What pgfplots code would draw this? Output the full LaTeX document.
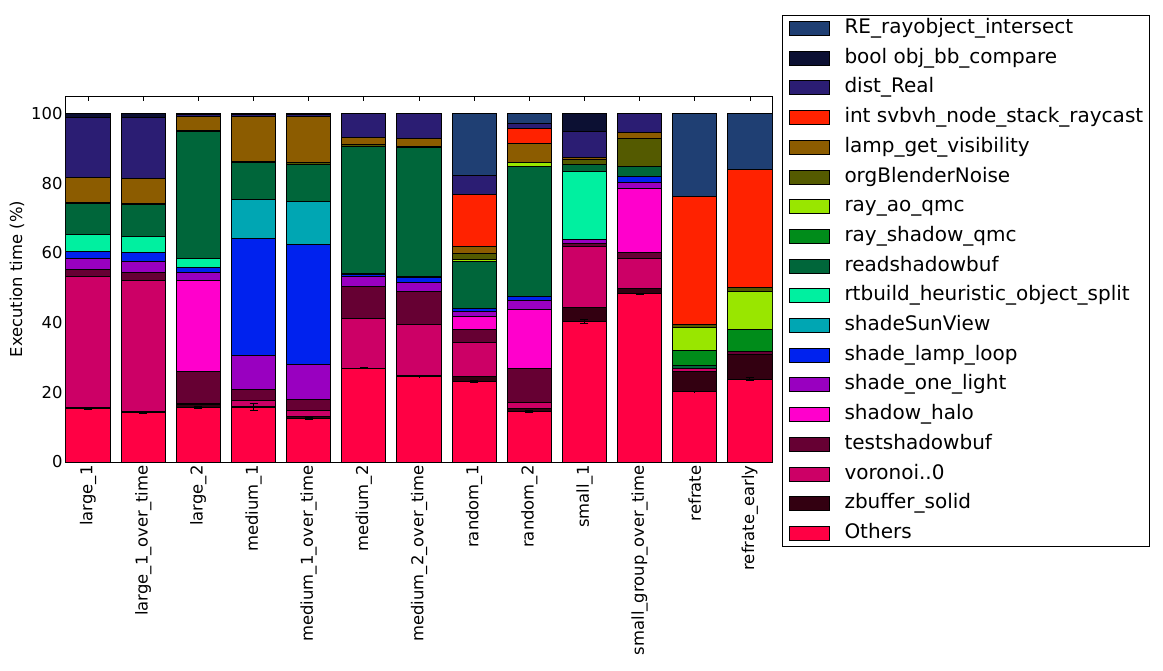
\documentclass[border=0pt]{standalone}
\usepackage{pgfplots}
\usepackage{pgfplotstable}
\pgfplotsset{compat=1.18}
\usepackage{fontspec}
\setmainfont{DejaVu Sans}

\definecolor{cOt}{HTML}{FF0044}
\definecolor{czb}{HTML}{330011}
\definecolor{cvo}{HTML}{CC0066}
\definecolor{cts}{HTML}{660033}
\definecolor{csh}{HTML}{FF00CC}
\definecolor{csol}{HTML}{9900C0}
\definecolor{csll}{HTML}{0022EE}
\definecolor{cssv}{HTML}{00A6B3}
\definecolor{crt}{HTML}{00F0A0}
\definecolor{crsb}{HTML}{00663A}
\definecolor{crsq}{HTML}{008C1A}
\definecolor{craq}{HTML}{99E600}
\definecolor{cobn}{HTML}{545A00}
\definecolor{clgv}{HTML}{8C5C00}
\definecolor{cisv}{HTML}{FF2200}
\definecolor{cdr}{HTML}{2B1D73}
\definecolor{cbob}{HTML}{0C1033}
\definecolor{cre}{HTML}{1F3F73}

\pgfplotstableread{
x  Ot   eOt zb  vo   ts  sh   sol  sll  ssv  rt   rsb  rsq raq  obn lgv  isv  dr   bob re
0  15.4 0.2 0.3 37.4 2.1 0    3.1  2.0  0    5.0  8.8  0   0    0.3 7.3  0    17.0 1.3 0
1  14.2 0.3 0.3 37.6 2.3 0    3.2  2.6  0    4.6  9.1  0   0    0.3 7.2  0    17.3 1.3 0
2  15.6 0.2 1.0 0.2  9.2 26.1 2.3  1.5  0    2.5  36.5 0   0    0.3 4.0  0    0.4  0.4 0
3  15.7 1.0 0.3 1.6  3.3 0    9.7  33.4 11.4 0    10.6 0   0    0.3 12.9 0    0.4  0.4 0
4  12.5 0.3 0.5 1.8  3.1 0    10.2 34.4 12.3 0    10.6 0   0    0.5 13.3 0    0.4  0.4 0
5  26.9 0.2 0   14.4 9.1 0    2.7  0.8  0    0.3  36.4 0   0    0.5 2.1  0    6.8  0   0
6  24.5 0.1 0.2 14.7 9.5 0    2.7  1.2  0    0.4  36.9 0   0    0.5 2.2  0    7.2  0   0
7  23.0 0.3 1.5 9.8  3.6 3.8  1.5  0.8  0    0    13.4 0   0.8  1.7 1.8  15.1 5.3  0   17.9
8  14.5 0.3 0.9 1.7  9.8 16.9 2.6  1.1  0    0    37.4 0   0.9  0   5.7  4.3  1.3  0   2.9
9  40.3 0.6 3.9 17.5 0.9 0    1.2  0    0    19.4 2.1  0   0    1.5 0.5  0    7.6  5.1 0
10 48.2 0.2 1.6 8.5  1.9 18.2 1.7  1.9  0    0    2.9  0   0    7.8 1.9  0    5.4  0   0
11 20.2 0.1 5.9 0.8  0   0    0    0    0    0    0.7  4.4 6.7  0.7 0    36.7 0    0   23.9
12 23.8 0.4 6.9 0    1.0 0    0    0    0    0    0    6.2 11.0 1.3 0    33.7 0    0   16.1
}\datatable

\begin{document}
\begin{tikzpicture}
\useasboundingbox (-66pt,-208pt) rectangle (1097pt,462pt);
\begin{axis}[
  at={(0,0)}, anchor=south west,
  scale only axis, width=706pt, height=366pt,
  ybar stacked, bar width=0.8,
  xmin=-0.4, xmax=12.4, ymin=0, ymax=105,
  xtick={0,...,12},
  xticklabels={large\_1,large\_1\_over\_time,large\_2,medium\_1,medium\_1\_over\_time,medium\_2,medium\_2\_over\_time,random\_1,random\_2,small\_1,small\_group\_over\_time,refrate,refrate\_early},
  ytick={0,20,40,60,80,100},
  /pgf/number format/assume math mode=true,
  tick align=inside, major tick length=5pt,
  tick style={black, line width=0.8pt},
  axis line style={line width=1pt},
  xticklabel style={rotate=90, anchor=east, font=\fontsize{16.4}{19}\selectfont},
  yticklabel style={font=\fontsize{16.4}{19}\selectfont},
  ylabel={Execution time (\%)},
  ylabel style={font=\fontsize{16.4}{19}\selectfont},
  every axis plot/.append style={draw=black, line width=1pt},
  legend image code/.code={\draw[#1,line width=1pt] (0pt,-7pt) rectangle (40pt,7pt);},
  reverse legend,
  legend cell align=left,
  legend style={at={(1,1)}, anchor=north west, xshift=10pt, yshift=81pt,
    font=\fontsize{20}{20}\selectfont, draw=black, line width=1pt,
    inner xsep=6pt, inner ysep=4pt, row sep=11.7pt,
    nodes={inner sep=0pt, text height=14pt, text depth=4pt},
    /tikz/every odd column/.append style={column sep=15pt}},
]
\addplot[fill=cOt, error bars/.cd, y dir=both, y explicit, error bar style={line width=1pt}, error mark options={rotate=90, mark size=4pt, line width=1pt}] table[x=x, y=Ot, y error=eOt] {\datatable};
\addlegendentry{Others}
\addplot[fill=czb] table[x=x, y=zb] {\datatable};
\addlegendentry{zbuffer\_solid}
\addplot[fill=cvo] table[x=x, y=vo] {\datatable};
\addlegendentry{voronoi..0}
\addplot[fill=cts] table[x=x, y=ts] {\datatable};
\addlegendentry{testshadowbuf}
\addplot[fill=csh] table[x=x, y=sh] {\datatable};
\addlegendentry{shadow\_halo}
\addplot[fill=csol] table[x=x, y=sol] {\datatable};
\addlegendentry{shade\_one\_light}
\addplot[fill=csll] table[x=x, y=sll] {\datatable};
\addlegendentry{shade\_lamp\_loop}
\addplot[fill=cssv] table[x=x, y=ssv] {\datatable};
\addlegendentry{shadeSunView}
\addplot[fill=crt] table[x=x, y=rt] {\datatable};
\addlegendentry{rtbuild\_heuristic\_object\_split}
\addplot[fill=crsb] table[x=x, y=rsb] {\datatable};
\addlegendentry{readshadowbuf}
\addplot[fill=crsq] table[x=x, y=rsq] {\datatable};
\addlegendentry{ray\_shadow\_qmc}
\addplot[fill=craq] table[x=x, y=raq] {\datatable};
\addlegendentry{ray\_ao\_qmc}
\addplot[fill=cobn] table[x=x, y=obn] {\datatable};
\addlegendentry{orgBlenderNoise}
\addplot[fill=clgv] table[x=x, y=lgv] {\datatable};
\addlegendentry{lamp\_get\_visibility}
\addplot[fill=cisv] table[x=x, y=isv] {\datatable};
\addlegendentry{int svbvh\_node\_stack\_raycast}
\addplot[fill=cdr] table[x=x, y=dr] {\datatable};
\addlegendentry{dist\_Real}
\addplot[fill=cbob] table[x=x, y=bob] {\datatable};
\addlegendentry{bool obj\_bb\_compare}
\addplot[fill=cre] table[x=x, y=re] {\datatable};
\addlegendentry{RE\_rayobject\_intersect}
\end{axis}
\end{tikzpicture}
\end{document}
